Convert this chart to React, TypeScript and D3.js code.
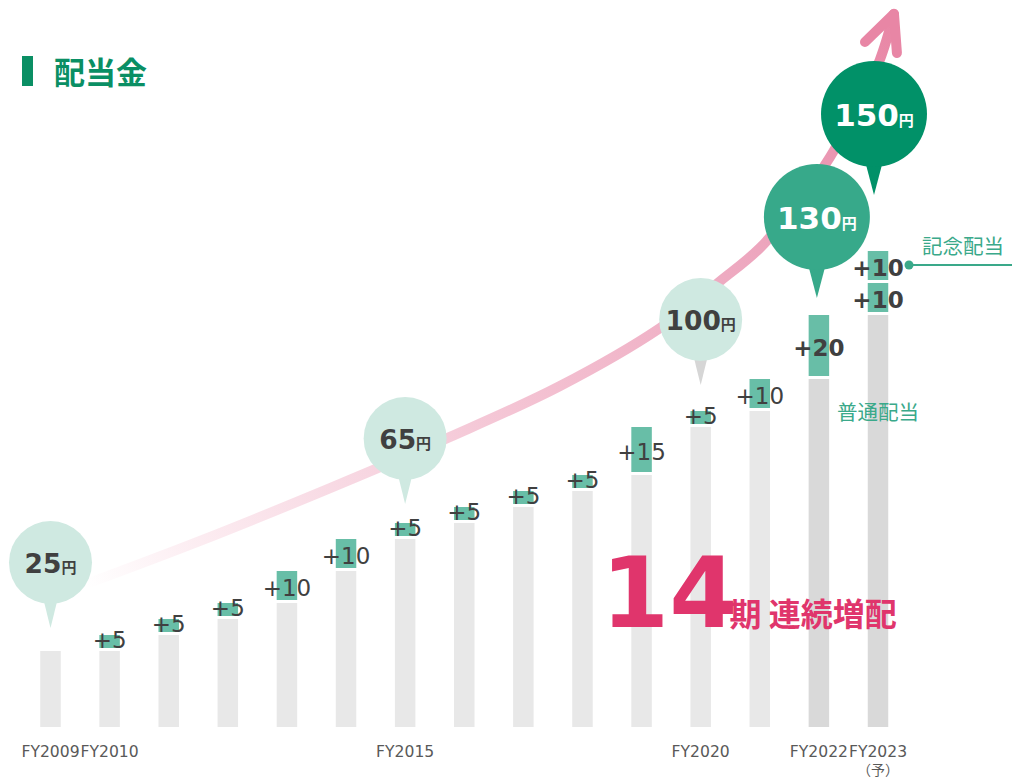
import * as d3 from 'd3';

// fiscal years and dividend per share (yen)
const years = [2009, 2010, 2011, 2012, 2013, 2014, 2015, 2016, 2017, 2018, 2019, 2020, 2021, 2022, 2023];
const ordinaryDividend = [25, 30, 35, 40, 50, 60, 65, 70, 75, 80, 95, 100, 110, 130, 140];
const commemorativeDividend = [0, 0, 0, 0, 0, 0, 0, 0, 0, 0, 0, 0, 0, 0, 10];

const tickYears = [2009, 2010, 2015, 2020, 2022, 2023];
const forecastYear = 2023;
const bubbleYears = [2009, 2015, 2020, 2022, 2023];
const streakCount = 14;

// trend arrow, in (year, yen) units
const trendYears = [2009.6, 2011.53, 2013.73, 2015.76, 2017.62, 2019.31, 2020.33, 2021.0, 2021.68, 2022.19, 2022.69, 2023.03, 2023.27];
const trendValues = [45.9, 59.4, 75.9, 91.9, 107.8, 125.9, 140.6, 150.9, 165.9, 179.4, 196.3, 209.7, 224.1];
const arrowHeadYears = [2022.78, 2023.27, 2023.32];
const arrowHeadValues = [215.3, 224.1, 211.9];

const W = 1012;
const H = 782;
const BAR_W = 20.5;
const GAP = 3;
const LATIN = '"DejaVu Sans", Verdana, "Noto Sans CJK JP", sans-serif';
const CJK = '"Noto Sans CJK JP", sans-serif';
const INK = '#404040';
const MINT = '#68bea7';
const TEAL = '#3aa98a';

const bubbleStyle: Record<number, any> = {
  2009: { r: 41.5, gap: 23, fill: '#cfe9e1', tipFill: '#cfe9e1', color: INK, big: false, dx: 0 },
  2015: { r: 41.5, gap: 19, fill: '#cfe9e1', tipFill: '#cfe9e1', color: INK, big: false, dx: 0 },
  2020: { r: 41.5, gap: 26, fill: '#cfe9e1', tipFill: '#d6d6d6', color: INK, big: false, dx: 0 },
  2022: { r: 53, gap: 17, fill: '#37a98a', tipFill: '#37a98a', color: '#fff', big: true, dx: -2 },
  2023: { r: 53, gap: 56, fill: '#019168', tipFill: '#019168', color: '#fff', big: true, dx: -4 },
};

export default function App() {
  const x = d3.scalePoint<number>().domain(years).range([50.5, 878]);
  const xc = d3.scaleLinear().domain([2009, 2023]).range([50.5, 878]);
  const y = d3.scaleLinear().domain([0, 150]).range([731, 251]);
  const base = y(0) - 4;

  const totals = years.map((_, i) => ordinaryDividend[i] + commemorativeDividend[i]);

  const line = d3
    .line<number>()
    .x((d) => xc(trendYears[d]))
    .y((d) => y(trendValues[d]))
    .curve(d3.curveCatmullRom.alpha(0.5));
  const headLine = d3
    .line<number>()
    .x((d) => xc(arrowHeadYears[d]))
    .y((d) => y(arrowHeadValues[d]));

  const p0 = [xc(trendYears[0]), y(trendValues[0])];
  const p1 = [xc(trendYears[trendYears.length - 1]), y(trendValues[trendValues.length - 1])];

  return (
    <svg width={W} height={H} style={{ position: 'absolute', left: 0, top: 0, background: '#fff' }}>
      <defs>
        <linearGradient id="trendGrad" gradientUnits="userSpaceOnUse" x1={p0[0]} y1={p0[1]} x2={p1[0]} y2={p1[1]}>
          <stop offset="0" stopColor="#ffffff" />
          <stop offset="0.12" stopColor="#fcecf1" />
          <stop offset="0.26" stopColor="#f8dae4" />
          <stop offset="0.5" stopColor="#f3bfd0" />
          <stop offset="0.75" stopColor="#eda6be" />
          <stop offset="1" stopColor="#e886a5" />
        </linearGradient>
      </defs>

      {/* title */}
      <rect x={22} y={56} width={11} height={30} fill="#0a8f64" />
      <text x={54} y={84} fontFamily={CJK} fontWeight={700} fontSize={31} fill="#0a8f64">
        配当金
      </text>

      {/* trend arrow */}
      <path
        d={line(d3.range(trendYears.length)) ?? ''}
        fill="none"
        stroke="url(#trendGrad)"
        strokeWidth={10}
        strokeLinecap="round"
      />
      <path
        d={headLine(d3.range(arrowHeadYears.length)) ?? ''}
        fill="none"
        stroke="#e886a5"
        strokeWidth={10}
        strokeLinecap="round"
        strokeLinejoin="round"
      />

      {/* bars */}
      {years.map((yr, i) => {
        const cx = x(yr)!;
        const prev = i === 0 ? ordinaryDividend[0] : ordinaryDividend[i - 1];
        const dark = yr >= 2022;
        const segs: { lo: number; hi: number }[] = [];
        if (i > 0) segs.push({ lo: prev, hi: ordinaryDividend[i] });
        if (commemorativeDividend[i] > 0)
          segs.push({ lo: ordinaryDividend[i], hi: ordinaryDividend[i] + commemorativeDividend[i] });
        return (
          <g key={yr}>
            <rect x={cx - BAR_W / 2} y={y(prev)} width={BAR_W} height={base - y(prev)} fill={dark ? '#d9d9d9' : '#e8e8e8'} />
            {segs.map((s, k) => {
              const top = y(s.hi);
              const bot = y(s.lo) - GAP;
              const mid = (top + bot) / 2;
              const by = Math.min(bot, mid + 10);
              return (
                <g key={k}>
                  <rect x={cx - BAR_W / 2} y={top} width={BAR_W} height={bot - top} fill={MINT} />
                  <text
                    x={cx}
                    y={by}
                    textAnchor="middle"
                    fontFamily={LATIN}
                    fontSize={23}
                    fontWeight={dark ? 700 : 400}
                    fill={INK}
                  >
                    +{s.hi - s.lo}
                  </text>
                </g>
              );
            })}
          </g>
        );
      })}

      {/* labels for the forecast year */}
      {(() => {
        const i = years.indexOf(forecastYear);
        const cx = x(forecastYear)!;
        const dotY = (y(ordinaryDividend[i]) + y(totals[i])) / 2 - 2;
        return (
          <g>
            <circle cx={cx + 31} cy={dotY} r={4.5} fill={TEAL} />
            <line x1={cx + 31} x2={W} y1={dotY} y2={dotY} stroke={TEAL} strokeWidth={2} />
            <text x={963} y={dotY - 11} textAnchor="middle" fontFamily={CJK} fontSize={20.5} fill={TEAL}>
              記念配当
            </text>
            <text x={cx} y={y(ordinaryDividend[i - 1]) + 105} textAnchor="middle" fontFamily={CJK} fontSize={20.5} fill={TEAL}>
              普通配当
            </text>
          </g>
        );
      })()}

      {/* bubbles */}
      {bubbleYears.map((yr) => {
        const i = years.indexOf(yr);
        const st = bubbleStyle[yr];
        const tipX = x(yr)! + st.dx;
        const tipY = y(totals[i]) - st.gap;
        const plen = st.big ? 28 : 24;
        const cy = tipY - plen - st.r;
        const hw = st.big ? 9.5 : 7.5;
        const fs = st.big ? 31 : 26.5;
        return (
          <g key={yr}>
            <path
              d={`M${tipX - hw},${cy + st.r * 0.85}L${tipX},${tipY}L${tipX + hw},${cy + st.r * 0.85}Z`}
              fill={st.tipFill}
            />
            <circle cx={tipX} cy={cy} r={st.r} fill={st.fill} />
            <text
              x={tipX}
              y={cy + fs * 0.365 + 1}
              textAnchor="middle"
              fontFamily={LATIN}
              fontWeight={700}
              fill={st.color}
            >
              <tspan fontSize={fs}>{totals[i]}</tspan>
              <tspan fontSize={15} fontFamily={CJK}>円</tspan>
            </text>
          </g>
        );
      })}

      {/* streak */}
      <text x={601} y={627} fontFamily={LATIN} fontWeight={700} fill="#e0356c">
        <tspan fontSize={98}>{streakCount}</tspan>
        <tspan fontSize={32} fontFamily={CJK} dx={-8} dy={-1}>期 連続増配</tspan>
      </text>

      {/* x labels */}
      {tickYears.map((yr) => (
        <text key={yr} x={x(yr)} y={756.5} textAnchor="middle" fontFamily={LATIN} fontSize={15.6} fill="#595959">
          FY{yr}
        </text>
      ))}
      <text x={x(forecastYear)} y={775} textAnchor="middle" fontFamily={CJK} fontSize={14} fill="#595959">
        （予）
      </text>
    </svg>
  );
}
